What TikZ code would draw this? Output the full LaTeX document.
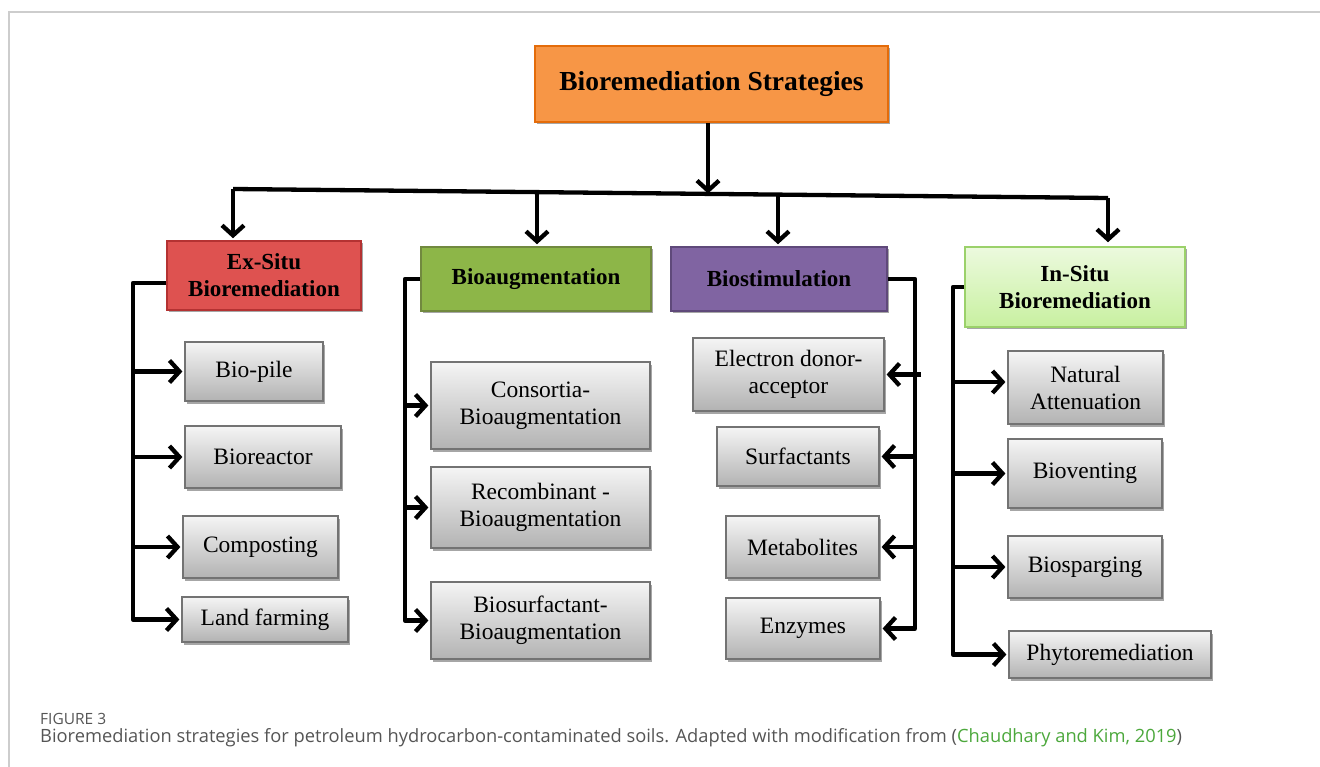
\documentclass[tikz,border=0pt]{standalone}
\usepackage{fontspec}
\setmainfont{Liberation Serif}
\newfontfamily\capfont{Open Sans}
\usetikzlibrary{arrows.meta,shadows,calc}
\definecolor{rootfill}{RGB}{247,150,70}
\definecolor{rootdraw}{RGB}{228,108,10}
\definecolor{exfill}{RGB}{222,82,80}
\definecolor{exdraw}{RGB}{180,50,50}
\definecolor{bafill}{RGB}{141,182,72}
\definecolor{badraw}{RGB}{113,137,63}
\definecolor{bsfill}{RGB}{128,100,162}
\definecolor{bsdraw}{RGB}{95,73,122}
\definecolor{intop}{RGB}{236,250,222}
\definecolor{inbot}{RGB}{200,240,160}
\definecolor{indraw}{RGB}{155,209,106}
\definecolor{capgray}{RGB}{85,85,85}
\definecolor{capgreen}{RGB}{76,168,60}
\definecolor{framegray}{RGB}{205,205,205}
\tikzset{
  shadowed/.style={drop shadow={shadow xshift=2pt,shadow yshift=-2.5pt,opacity=0.35,fill=black}},
  headbox/.style={shadowed,rectangle,line width=1.5pt,align=center,inner sep=2pt,
    font=\fontsize{23}{27}\selectfont\bfseries},
  childbox/.style={shadowed,rectangle,line width=1.2pt,draw=black!55,top color=black!4,bottom color=black!30,
    align=center,inner sep=2pt,font=\fontsize{23.5}{27}\selectfont},
  conn/.style={line width=4.3pt,black,line join=round},
  arr/.style={conn,-{Straight Barb[length=10pt,width=22pt]}},
}
\begin{document}
\begin{tikzpicture}[x=1pt,y=-1pt]
\useasboundingbox (0,0) rectangle (1320,767);
\draw[framegray,line width=1.5pt] (1320,12) -- (9,12) -- (9,767);
% root
\node[headbox,fill=rootfill,draw=rootdraw,minimum width=353pt,minimum height=76pt,
  font=\fontsize{27.5}{30}\selectfont\bfseries] (root) at (711.5,84) {Bioremediation Strategies};
% headers
\node[headbox,fill=exfill,draw=exdraw,minimum width=194pt,minimum height=69pt] (exs) at (264,275.5) {Ex-Situ\\Bioremediation};
\node[headbox,fill=bafill,draw=badraw,minimum width=230pt,minimum height=64pt] (bag) at (536,279) {Bioaugmentation};
\node[headbox,fill=bsfill,draw=bsdraw,minimum width=216pt,minimum height=64pt] (bst) at (779,279) {Biostimulation};
\node[headbox,top color=intop,bottom color=inbot,draw=indraw,minimum width=220pt,minimum height=80pt] (ins) at (1075,287) {In-Situ\\Bioremediation};
% ex-situ children
\node[childbox,minimum width=138pt,minimum height=59pt] (bp) at (254,371.5) {Bio-pile};
\node[childbox,minimum width=156pt,minimum height=62pt] (brx) at (263,457) {Bioreactor};
\node[childbox,minimum width=155pt,minimum height=62pt] (comp) at (260.5,547) {Composting};
\node[childbox,minimum width=166pt,minimum height=45pt] (lf) at (265,619.5) {Land farming};
% bioaugmentation children
\node[childbox,minimum width=219pt,minimum height=87pt] (cons) at (540.5,405.5) {Consortia-\\Bioaugmentation};
\node[childbox,minimum width=219pt,minimum height=81pt] (rec) at (540.5,507.5) {Recombinant -\\Bioaugmentation};
\node[childbox,minimum width=219pt,minimum height=77pt] (bsurf) at (540.5,620.5) {Biosurfactant-\\Bioaugmentation};
% biostimulation children
\node[childbox,minimum width=191pt,minimum height=73pt] (edon) at (788.5,374.5) {Electron donor-\\acceptor};
\node[childbox,minimum width=162pt,minimum height=59pt] (surf) at (798,456.5) {Surfactants};
\node[childbox,minimum width=153pt,minimum height=62pt] (meta) at (802.5,547) {Metabolites};
\node[childbox,minimum width=154pt,minimum height=61pt] (enz) at (803,628.5) {Enzymes};
% in-situ children
\node[childbox,minimum width=155pt,minimum height=73pt] (nat) at (1085.5,387.5) {Natural\\Attenuation};
\node[childbox,minimum width=154pt,minimum height=69pt] (bvent) at (1085,473.5) {Bioventing};
\node[childbox,minimum width=154pt,minimum height=62pt] (bsparg) at (1085,567) {Biosparging};
\node[childbox,minimum width=202pt,minimum height=47pt] (phyto) at (1110,654.5) {Phytoremediation};
% top bus
\coordinate (busL) at (233,189);
\coordinate (busR) at (1108,198);
\coordinate (busM) at (708,193.5);
\coordinate (d2) at (537,192);
\coordinate (d3) at (778,194);
\draw[arr] ([xshift=-3.5pt]root.south) -- (busM);
\draw[conn] (busL) -- (busR);
\draw[arr] (busL) -- ([yshift=2pt]busL |- exs.north);
\draw[arr] (d2) -- ([yshift=2pt]d2 |- bag.north);
\draw[arr] (d3) -- ([yshift=2pt]d3 |- bst.north);
\draw[arr] (busR) -- ([yshift=4pt]busR |- ins.north);
% ex-situ bus
\coordinate (exb) at (133,283);
\draw[arr] ([yshift=-7.5pt]exs.west) -- (exb) |- ([xshift=-2pt]lf.west);
\draw[arr] (exb |- bp.west) -- ([xshift=-2pt]bp.west);
\draw[arr] (exb |- brx.west) -- ([xshift=-2pt]brx.west);
\draw[arr] (exb |- comp.west) -- ([xshift=-2pt]comp.west);
% bioaugmentation bus
\coordinate (bab) at (405,279);
\draw[arr] (bag.west) -- (bab) |- ([xshift=-2pt]bsurf.west);
\draw[arr] (bab |- cons.west) -- ([xshift=-2pt]cons.west);
\draw[arr] (bab |- rec.west) -- ([xshift=-2pt]rec.west);
% biostimulation bus
\coordinate (bsb) at (915,279);
\draw[arr] (bst.east) -- (bsb) |- ([xshift=2pt]enz.east);
\draw[arr] ([xshift=6pt]bsb |- edon.east) -- ([xshift=2pt]edon.east);
\draw[arr] (bsb |- surf.east) -- ([xshift=2pt]surf.east);
\draw[arr] (bsb |- meta.east) -- ([xshift=2pt]meta.east);
% in-situ bus
\coordinate (inb) at (953,287);
\draw[arr] (ins.west) -- (inb) |- ([xshift=-2pt]phyto.west);
\draw[arr] ([yshift=5.5pt]inb |- nat.west) -- ([yshift=5.5pt,xshift=-2pt]nat.west);
\draw[arr] (inb |- bvent.west) -- ([xshift=-2pt]bvent.west);
\draw[arr] (inb |- bsparg.west) -- ([xshift=-2pt]bsparg.west);
% caption
\node[anchor=base west,inner sep=0pt,font=\capfont\fontsize{15.5}{18}\selectfont,text=capgray] (fig) at (40,724) {FIGURE 3};
\node[anchor=base west,inner sep=0pt,font=\capfont\fontsize{18.3}{21}\selectfont,text=capgray] (cap) at (40,742)
  {Bioremediation strategies for petroleum hydrocarbon-contaminated soils. Adapted with modification from (\textcolor{capgreen}{Chaudhary and Kim, 2019})};
\end{tikzpicture}
\end{document}
